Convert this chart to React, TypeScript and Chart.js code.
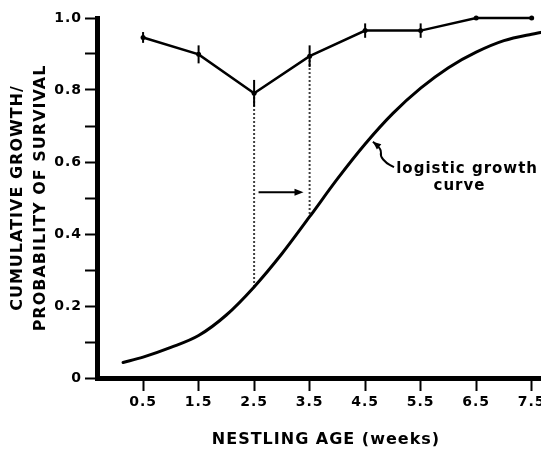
import React, { useEffect, useRef } from "react";
import { Chart, registerables } from "chart.js";

Chart.register(...registerables);

// ---- data ----
const weeks = [0.5, 1.5, 2.5, 3.5, 4.5, 5.5, 6.5, 7.5];
const xTickLabels = ["0.5", "1.5", "2.5", "3.5", "4.5", "5.5", "6.5", "7.5"];
const survival = [0.946, 0.899, 0.791, 0.894, 0.965, 0.965, 1.0, 1.0];
const survivalErr = [0.015, 0.025, 0.037, 0.03, 0.02, 0.02, 0, 0];

const growthAge = [0.14, 0.5, 1.0, 1.5, 2.0, 2.5, 3.0, 3.5, 4.0, 4.5, 5.0, 5.5, 6.0, 6.5, 7.0, 7.5, 7.9];
const growthValue = [0.043, 0.058, 0.085, 0.118, 0.175, 0.253, 0.345, 0.448, 0.553, 0.65, 0.735, 0.805, 0.862, 0.905, 0.937, 0.955, 0.966];

const yTickLabels = ["0", "", "0.2", "", "0.4", "", "0.6", "", "0.8", "", "1.0"];

const yTitle = ["CUMULATIVE GROWTH/", "PROBABILITY OF SURVIVAL"];
const xTitle = "NESTLING AGE (weeks)";

// annotations (data coordinates)
const guideX = [2.5, 3.5];
const guideTop = [0.791, 0.894];
const guideBottom = [0.253, 0.448];
const shiftArrowX = [2.58, 3.39];
const shiftArrowY = 0.516;
const leaderX = [4.64, 4.8, 4.77, 4.88, 5.02];
const leaderY = [0.656, 0.636, 0.617, 0.597, 0.586];
const labelLines = ["logistic growth", "curve"];
const labelX = [5.06, 6.2];
const labelY = [0.569, 0.522];
const labelAlign: CanvasTextAlign[] = ["left", "center"];

const FONT = "'DejaVu Sans', 'Liberation Sans', sans-serif";

const spacingPlugin = {
  id: "spacing",
  beforeDraw(chart: any) {
    (chart.ctx as any).letterSpacing = "1px";
  },
};

function arrowHead(ctx: CanvasRenderingContext2D, x: number, y: number, angle: number, len: number, half: number) {
  ctx.save();
  ctx.translate(x, y);
  ctx.rotate(angle);
  ctx.beginPath();
  ctx.moveTo(0, 0);
  ctx.lineTo(-len, -half);
  ctx.lineTo(-len, half);
  ctx.closePath();
  ctx.fill();
  ctx.restore();
}

const annotatePlugin = {
  id: "annotate",
  afterDatasetsDraw(chart: any) {
    const ctx: CanvasRenderingContext2D = chart.ctx;
    const xs = chart.scales.x;
    const ys = chart.scales.y;
    ctx.save();
    ctx.strokeStyle = "#000";
    ctx.fillStyle = "#000";

    // error bars
    ctx.lineWidth = 2;
    weeks.forEach((w, i) => {
      const e = survivalErr[i];
      if (!e) return;
      const px = xs.getPixelForValue(w);
      ctx.beginPath();
      ctx.moveTo(px, ys.getPixelForValue(survival[i] + e));
      ctx.lineTo(px, ys.getPixelForValue(survival[i] - e));
      ctx.stroke();
    });

    // dotted guides
    ctx.lineWidth = 2;
    ctx.setLineDash([1.5, 2.5]);
    guideX.forEach((g, i) => {
      const px = xs.getPixelForValue(g);
      ctx.beginPath();
      ctx.moveTo(px, ys.getPixelForValue(guideTop[i]));
      ctx.lineTo(px, ys.getPixelForValue(guideBottom[i]));
      ctx.stroke();
    });
    ctx.setLineDash([]);

    // shift arrow
    const ay = ys.getPixelForValue(shiftArrowY);
    const ax0 = xs.getPixelForValue(shiftArrowX[0]);
    const ax1 = xs.getPixelForValue(shiftArrowX[1]);
    ctx.lineWidth = 2;
    ctx.beginPath();
    ctx.moveTo(ax0, ay);
    ctx.lineTo(ax1 - 6, ay);
    ctx.stroke();
    arrowHead(ctx, ax1, ay, 0, 9, 3.5);

    // leader squiggle
    const lp = leaderX.map((x, i) => [xs.getPixelForValue(x), ys.getPixelForValue(leaderY[i])]);
    ctx.lineWidth = 2;
    ctx.beginPath();
    ctx.moveTo(lp[0][0], lp[0][1]);
    for (let i = 1; i < lp.length - 1; i++) {
      const mx = (lp[i][0] + lp[i + 1][0]) / 2;
      const my = (lp[i][1] + lp[i + 1][1]) / 2;
      ctx.quadraticCurveTo(lp[i][0], lp[i][1], mx, my);
    }
    ctx.lineTo(lp[lp.length - 1][0], lp[lp.length - 1][1]);
    ctx.stroke();
    const ang = Math.atan2(lp[0][1] - lp[1][1], lp[0][0] - lp[1][0]);
    arrowHead(ctx, lp[0][0], lp[0][1], ang, 8, 3.5);

    // label
    ctx.font = `bold 15px ${FONT}`;
    (ctx as any).letterSpacing = "1px";
    ctx.textBaseline = "alphabetic";
    labelLines.forEach((t, i) => {
      ctx.textAlign = labelAlign[i];
      ctx.fillText(t, xs.getPixelForValue(labelX[i]), ys.getPixelForValue(labelY[i]));
    });
    ctx.restore();
  },
};

// canvas is a little wider than the window so the x axis runs off the right edge
const CANVAS_W = 559;
const CANVAS_H = 449;

export default function App() {
  const ref = useRef<HTMLCanvasElement | null>(null);

  useEffect(() => {
    if (!ref.current) return;
    const chart = new Chart(ref.current, {
      type: "line",
      data: {
        datasets: [
          {
            label: "survival",
            data: weeks.map((w, i) => ({ x: w, y: survival[i] })),
            borderColor: "#000",
            backgroundColor: "#000",
            borderWidth: 2.5,
            pointRadius: 2.5,
            pointBorderWidth: 0,
            tension: 0,
            clip: false as any,
          },
          {
            label: "growth",
            data: growthAge.map((a, i) => ({ x: a, y: growthValue[i] })),
            borderColor: "#000",
            borderWidth: 3,
            pointRadius: 0,
            cubicInterpolationMode: "monotone",
            borderCapStyle: "round",
          },
        ],
      },
      options: {
        animation: false,
        responsive: false,
        maintainAspectRatio: false,
        layout: { padding: { top: 18, right: 0, bottom: 0, left: 0 } },
        plugins: { legend: { display: false }, tooltip: { enabled: false } },
        scales: {
          x: {
            type: "linear",
            min: -0.33,
            max: 7.92,
            afterFit: (s: any) => {
              s.height = 71;
              s.paddingRight = 0;
              s.paddingLeft = 0;
            },
            afterBuildTicks: (s: any) => {
              s.ticks = weeks.map((v) => ({ value: v }));
            },
            border: { display: true, color: "#000", width: 5 },
            grid: { drawOnChartArea: false, drawTicks: true, tickLength: 13, tickWidth: 2, tickColor: "#000" },
            ticks: {
              autoSkip: false,
              maxRotation: 0,
              color: "#000",
              padding: 3,
              font: { family: FONT, size: 14, weight: "bold" },
              callback: (_v: any, i: number) => xTickLabels[i],
            },
            title: {
              display: true,
              text: xTitle,
              color: "#000",
              font: { family: FONT, size: 16, weight: "bold", lineHeight: 1.2 },
              padding: { top: 0, bottom: 0 },
            },
          },
          y: {
            type: "linear",
            min: 0,
            max: 1.0,
            afterFit: (s: any) => {
              s.width = 97;
            },
            border: { display: true, color: "#000", width: 5 },
            grid: { drawOnChartArea: false, drawTicks: true, tickLength: 12, tickWidth: 2, tickColor: "#000" },
            ticks: {
              stepSize: 0.1,
              color: "#000",
              padding: 3,
              font: { family: FONT, size: 14, weight: "bold" },
              callback: (_v: any, i: number) => yTickLabels[i],
            },
            title: {
              display: true,
              text: yTitle,
              color: "#000",
              font: { family: FONT, size: 16, weight: "bold", lineHeight: 1.45 },
              padding: { top: 6, bottom: 0 },
            },
          },
        },
      } as any,
      plugins: [spacingPlugin, annotatePlugin],
    });
    return () => chart.destroy();
  }, []);

  return (
    <div style={{ position: "fixed", left: 0, top: 0, width: 541, height: 449, overflow: "hidden", background: "#fff" }}>
      <canvas ref={ref} width={CANVAS_W} height={CANVAS_H} style={{ width: CANVAS_W, height: CANVAS_H, display: "block" }} />
    </div>
  );
}
